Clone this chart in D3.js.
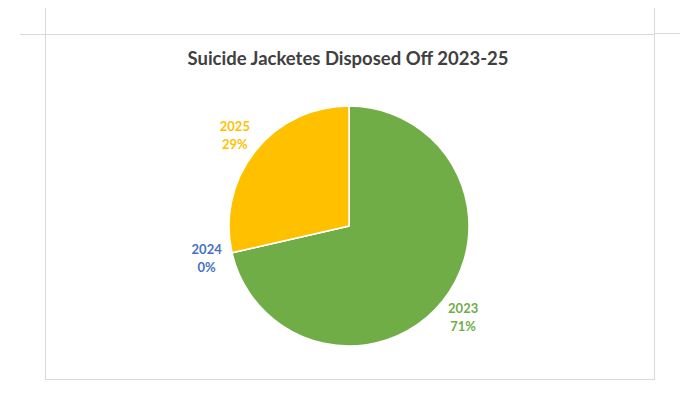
<!DOCTYPE html>
<html><head>
<meta charset="utf-8">
<script src="https://d3js.org/d3.v7.min.js"></script>
<style>
  body { margin: 0; background: #fff; }
  .frame line, .frame rect { stroke: #d9d9d9; stroke-width: 1; fill: none; }
  .title { font-family: Lato, "Open Sans", sans-serif; font-weight: 700; fill: #404040; }
  .label { font-family: Lato, "Open Sans", sans-serif; font-weight: 700; font-size: 13px; }
</style>
</head>
<body>
<svg id="pie" width="686" height="407"></svg>
<script>
  // data
  const years = ["2023", "2024", "2025"];
  const counts = [5, 0, 2];
  const colors = ["#70ad47", "#4472c4", "#ffc000"];
  const titleText = "Suicide Jacketes Disposed Off 2023-25";

  const svg = d3.select("svg#pie");
  const box = {"left": 45.5, "top": 34.5, "right": 654.5, "bottom": 379.5};

  // page frame + crop marks
  const frame = svg.append("g").attr("class", "frame");
  frame.append("rect")
       .attr("x", box.left).attr("y", box.top)
       .attr("width", box.right - box.left).attr("height", box.bottom - box.top);
  frame.append("line").attr("x1", box.left).attr("x2", box.left).attr("y1", 8).attr("y2", box.top);
  frame.append("line").attr("x1", 20).attr("x2", box.left).attr("y1", box.top).attr("y2", box.top);
  frame.append("line").attr("x1", box.right).attr("x2", box.right).attr("y1", 8).attr("y2", box.top);
  frame.append("line").attr("x1", box.right).attr("x2", 680).attr("y1", box.top - 1).attr("y2", box.top - 1);

  // title
  svg.append("text").attr("class", "title")
     .attr("x", 348).attr("y", 65)
     .attr("text-anchor", "middle")
     .attr("font-size", 18.5)
     .attr("textLength", 321).attr("lengthAdjust", "spacingAndGlyphs")
     .text(titleText);

  const cx = 349, cy = 226, radius = 120;
  const data = years.map((y, i) => ({"year": y, "count": counts[i], "color": colors[i]}));
  const total = d3.sum(counts);

  const pie = d3.pie().value(d => d.count).sort(null);
  const arcs = pie(data);
  const arc = d3.arc().innerRadius(0).outerRadius(radius);
  const labelArc = d3.arc().innerRadius(146).outerRadius(146);

  const g = svg.append("g").attr("transform", "translate(" + cx + "," + cy + ")");

  g.selectAll("path")
   .data(arcs)
   .join("path")
   .attr("d", arc)
   .attr("fill", d => d.data.color)
   .attr("stroke", "#fff")
   .attr("stroke-width", 1.5)
   .attr("stroke-linejoin", "round");

  const labels = g.selectAll("text.label")
   .data(arcs)
   .join("text")
   .attr("class", "label")
   .attr("text-anchor", "middle")
   .attr("fill", d => d.data.color)
   .attr("transform", d => "translate(" + labelArc.centroid(d) + ")");

  labels.append("tspan").attr("x", 0).attr("y", -4).text(d => d.data.year);
  labels.append("tspan").attr("x", 0).attr("y", 14)
        .text(d => Math.round(d.data.count / total * 100) + "%");
</script>
</body>
</html>
